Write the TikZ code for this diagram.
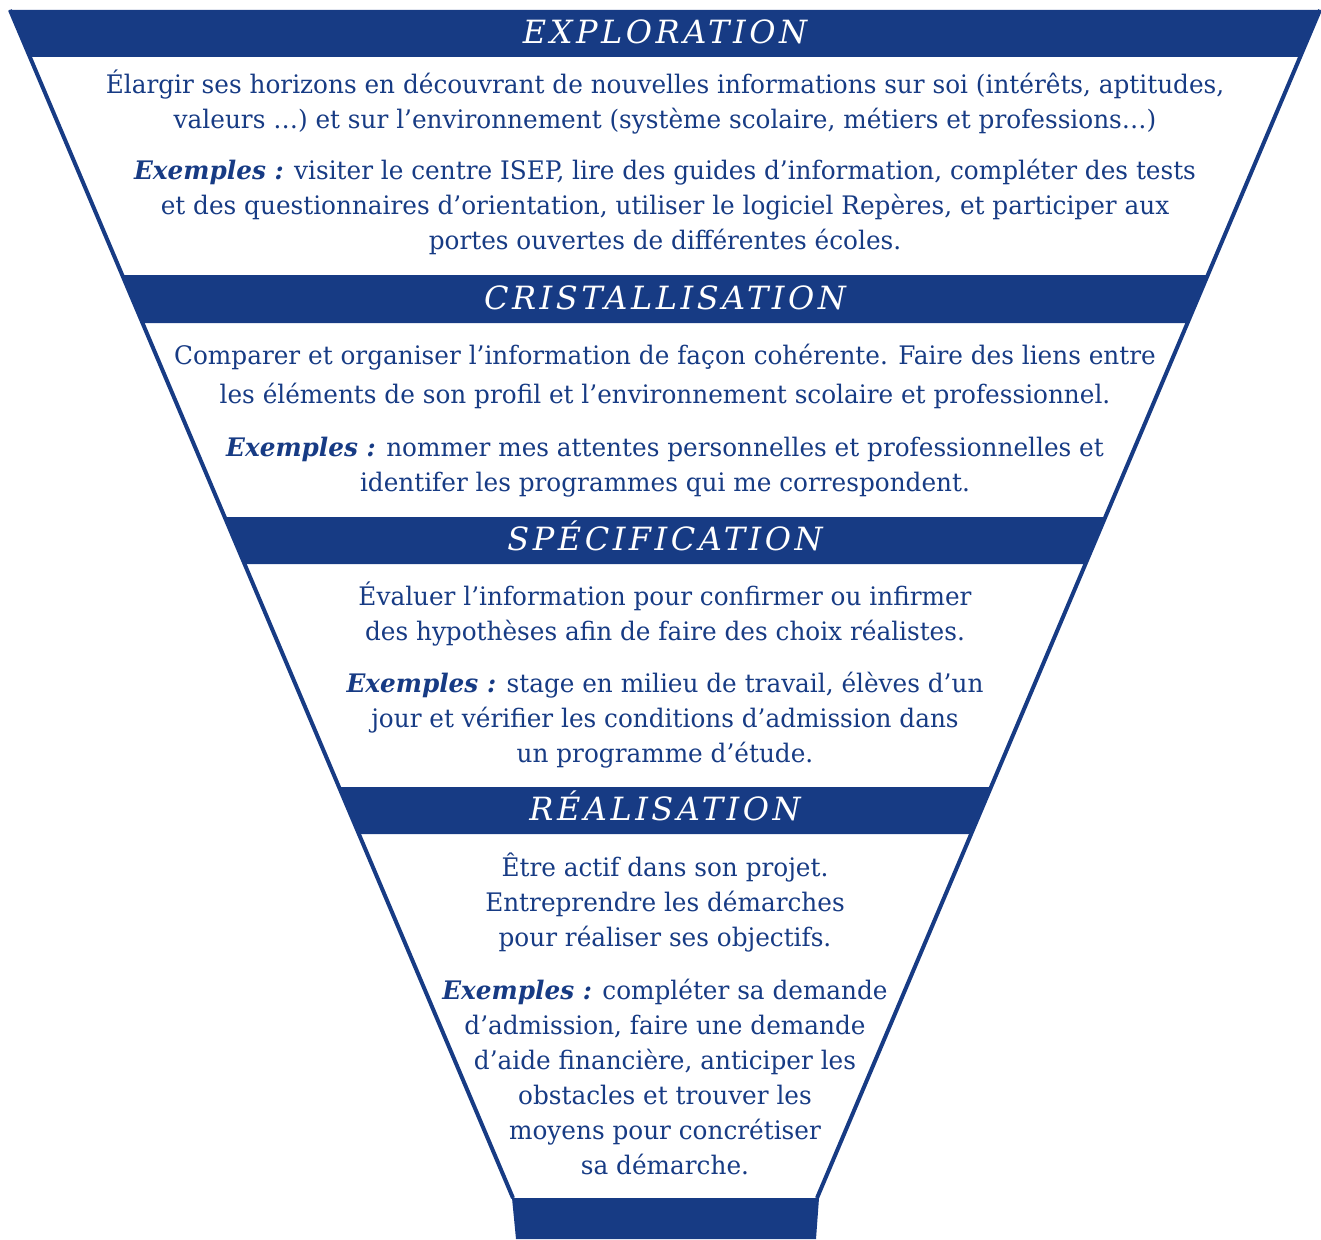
\documentclass[tikz,border=0pt]{standalone}
\usepackage{fontspec}
\setmainfont{DejaVu Serif}[FakeStretch=0.97]
\newfontfamily\headfont{DejaVu Serif}[LetterSpace=11]
\definecolor{funnelblue}{RGB}{23,59,132}
\newcommand{\exlabel}{\textbf{\textit{Exemples :}}}

\begin{document}
\begin{tikzpicture}[x=1pt,y=-1pt,
    band/.style={fill=funnelblue},
    heading/.style={text=white,anchor=base,font=\headfont\itshape\fontsize{32}{32}\selectfont},
    body/.style={text=funnelblue,align=center,font=\fontsize{25.5}{35}\selectfont},
    edge/.style={draw=funnelblue,line width=4pt}]
  \useasboundingbox (0,0) rectangle (1321,1239);
  \def\slope{0.4234}
  % title bands of the funnel
  \foreach \yt/\yb/\title [count=\i] in {10/57/EXPLORATION, 275/323/CRISTALLISATION, 517/564/SPÉCIFICATION, 787/834/RÉALISATION}{
    \fill[band] ({9+\slope*(\yt-10)},\yt) -- ({1321-\slope*(\yt-10)},\yt)
      -- ({1321-\slope*(\yb-10)},\yb) -- ({9+\slope*(\yb-10)},\yb) -- cycle;
    \node[heading] (head\i) at (665,{(\yt+\yb)/2+10}) {\title};
  }
  % spout
  \fill[band] (512,1198) -- (819,1198) -- (816,1239) -- (516,1239) -- cycle;
  % sides
  \coordinate (topL) at (10,10);
  \coordinate (topR) at (1320,10);
  \coordinate (botL) at (513,1198);
  \coordinate (botR) at (817,1198);
  \draw[edge] (topL) -- (botL);
  \draw[edge] (topR) -- (botR);
  % texts
  \node[body] (explA) at (665,102) {Élargir ses horizons en découvrant de nouvelles informations sur soi (intérêts, aptitudes,\\
    valeurs …) et sur l’environnement (système scolaire, métiers et professions…)};
  \node[body] (explB) at (665,207) {\exlabel{} visiter le centre ISEP, lire des guides d’information, compléter des tests\\
    et des questionnaires d’orientation, utiliser le logiciel Repères, et participer aux\\
    portes ouvertes de différentes écoles.};
  \node[body,font=\fontsize{25.5}{39}\selectfont] (crisA) at (665,376) {Comparer et organiser l’information de façon cohérente. Faire des liens entre\\
    les éléments de son profil et l’environnement scolaire et professionnel.};
  \node[body] (crisB) at (665,467) {\exlabel{} nommer mes attentes personnelles et professionnelles et\\
    identifer les programmes qui me correspondent.};
  \node[body] (specA) at (665,614) {Évaluer l’information pour confirmer ou infirmer\\
    des hypothèses afin de faire des choix réalistes.};
  \node[body] (specB) at (665,720) {\exlabel{} stage en milieu de travail, élèves d’un\\
    jour et vérifier les conditions d’admission dans\\
    un programme d’étude.};
  \node[body] (realA) at (665,902) {Être actif dans son projet.\\
    Entreprendre les démarches\\
    pour réaliser ses objectifs.};
  \node[body] (realB) at (665,1077) {\exlabel{} compléter sa demande\\
    d’admission, faire une demande\\
    d’aide financière, anticiper les\\
    obstacles et trouver les\\
    moyens pour concrétiser\\
    sa démarche.};
\end{tikzpicture}
\end{document}
